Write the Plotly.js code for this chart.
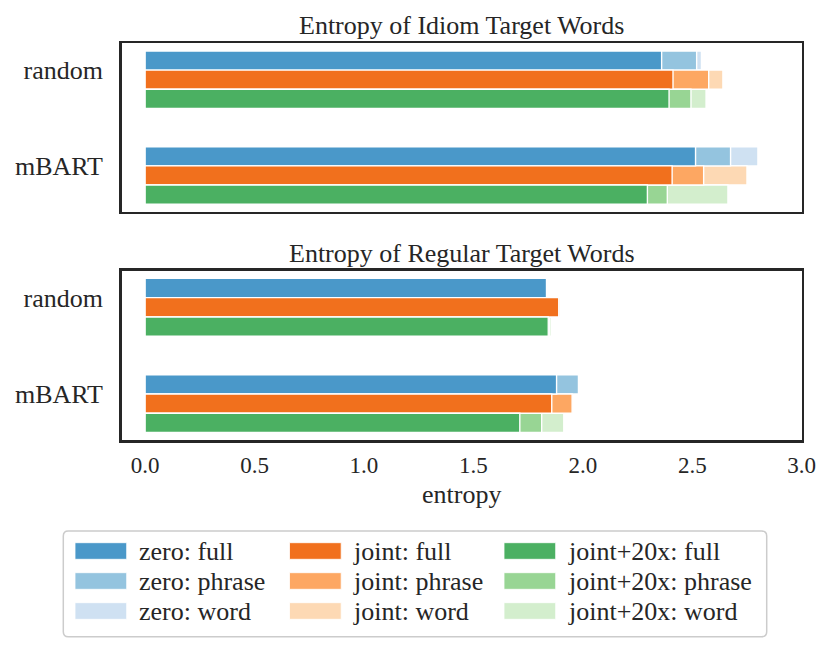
<!DOCTYPE html>
<html>
<head>
<meta charset="utf-8">
<script src="https://cdn.plot.ly/plotly-3.0.1.min.js"></script>
<style>
  html, body { margin: 0; padding: 0; background: #fff; }
</style>
</head>
<body>
<div id="plot" style="width:830px;height:651px;"></div>
<script>
// categories
const models = ['random', 'mBART'];
const settings = ['zero', 'joint', 'joint+20x'];
const levels = ['full', 'phrase', 'word'];
const xTicks = [0, 0.5, 1.0, 1.5, 2.0, 2.5, 3.0];
const xTickText = ['0.0', '0.5', '1.0', '1.5', '2.0', '2.5', '3.0'];

// entropy values, [setting][model]
const idiomFull   = [[2.36, 2.515], [2.412, 2.408], [2.394, 2.295]];
const idiomPhrase = [[2.52, 2.675], [2.575, 2.552], [2.494, 2.386]];
const idiomWord   = [[2.542, 2.80], [2.64, 2.75], [2.563, 2.663]];

const regularFull   = [[1.834, 1.88], [1.89, 1.858], [1.842, 1.712]];
const regularPhrase = [[1.836, 1.98], [1.895, 1.951], [1.848, 1.812]];
const regularWord   = [[1.837, 1.982], [1.898, 1.953], [1.856, 1.913]];

// colours per setting, [full, phrase, word]
const colors = [
  ['#4a98c9', '#94c4df', '#cfe1f2'],
  ['#f1701d', '#fda762', '#fdd9b4'],
  ['#4bb062', '#98d594', '#d3eecd']
];

const W = 830, H = 651;
const textColor = '#262626';
const font = 'Liberation Serif, Times New Roman, serif';

// frame positions in px
const frameL = 121.7, frameR = 801.7;
const frames = [[43.3, 211.7], [270.7, 440]];
const panelTitles = ['Entropy of Idiom Target Words', 'Entropy of Regular Target Words'];
const panelData = [
  [idiomFull, idiomPhrase, idiomWord],
  [regularFull, regularPhrase, regularWord]
];

const barW = 0.2;
function barPos(s, i) { return i + (s * barW - 0.1); }

let traces = [];
for (let p = 0; p < 2; p++) {
  // word behind, full on top
  for (let l = levels.length - 1; l >= 0; l--) {
    for (let s = 0; s < settings.length; s++) {
      traces.push({
        type: 'bar',
        orientation: 'h',
        x: panelData[p][l][s],
        y: models.map(function (m, i) { return barPos(s, i); }),
        width: barW,
        name: settings[s] + ': ' + levels[l],
        marker: { color: colors[s][l], line: { color: '#ffffff', width: 1.4 } },
        xaxis: p === 0 ? 'x' : 'x2',
        yaxis: p === 0 ? 'y' : 'y2',
        showlegend: false,
        hoverinfo: 'x+name'
      });
    }
  }
}

function px(x) { return x / W; }
function py(y) { return 1 - y / H; }

function xAxis(showLabels) {
  return {
    domain: [px(frameL), px(frameR)],
    range: [-0.107, 3.0],
    showgrid: false, zeroline: false, ticks: '',
    showline: true, mirror: true, linecolor: textColor, linewidth: 2.5,
    tickvals: xTicks, ticktext: xTickText,
    showticklabels: showLabels,
    ticklabelstandoff: 3,
    tickfont: { family: font, size: 23, color: textColor }
  };
}
function yAxis(p) {
  return {
    domain: [py(frames[p][1]), py(frames[p][0])],
    range: [1.478, -0.28],
    showgrid: false, zeroline: false, ticks: '',
    showline: true, mirror: true, linecolor: textColor, linewidth: 2.5,
    tickvals: models.map(function (m, i) { return i; }),
    ticktext: models,
    ticklabelstandoff: 11,
    tickfont: { family: font, size: 26, color: textColor },
    anchor: p === 0 ? 'x' : 'x2'
  };
}

let annotations = [];
let shapes = [];
for (let p = 0; p < 2; p++) {
  annotations.push({
    text: panelTitles[p], xref: 'paper', yref: 'paper',
    x: px((frameL + frameR) / 2), y: py(frames[p][0]),
    xanchor: 'center', yanchor: 'bottom', yshift: 1, showarrow: false,
    font: { family: font, size: 26, color: textColor }
  });
}
annotations.push({
  text: 'entropy', xref: 'paper', yref: 'paper',
  x: px((frameL + frameR) / 2), y: py(494),
  xanchor: 'center', yanchor: 'middle', showarrow: false,
  font: { family: font, size: 26, color: textColor }
});

// legend box, drawn as rounded path
const lb = { l: 63.3, r: 766.7, t: 531, b: 636.7, rad: 5 };
function P(x, y) { return px(x) + ',' + py(y); }
shapes.push({
  type: 'path', xref: 'paper', yref: 'paper',
  path: 'M' + P(lb.l + lb.rad, lb.t) + ' L' + P(lb.r - lb.rad, lb.t) +
        ' Q' + P(lb.r, lb.t) + ' ' + P(lb.r, lb.t + lb.rad) +
        ' L' + P(lb.r, lb.b - lb.rad) +
        ' Q' + P(lb.r, lb.b) + ' ' + P(lb.r - lb.rad, lb.b) +
        ' L' + P(lb.l + lb.rad, lb.b) +
        ' Q' + P(lb.l, lb.b) + ' ' + P(lb.l, lb.b - lb.rad) +
        ' L' + P(lb.l, lb.t + lb.rad) +
        ' Q' + P(lb.l, lb.t) + ' ' + P(lb.l + lb.rad, lb.t) + ' Z',
  line: { color: '#cccccc', width: 1.5 },
  fillcolor: 'rgba(255,255,255,0.8)'
});
for (let s = 0; s < settings.length; s++) {
  for (let l = 0; l < levels.length; l++) {
    const x0 = 75 + s * 214.5;
    const yc = 551 + l * 30;
    shapes.push({
      type: 'rect', xref: 'paper', yref: 'paper',
      x0: px(x0), x1: px(x0 + 51.7), y0: py(yc + 8.3), y1: py(yc - 8.3),
      fillcolor: colors[s][l], line: { color: '#ffffff', width: 0.8 }
    });
    annotations.push({
      text: settings[s] + ': ' + levels[l], xref: 'paper', yref: 'paper',
      x: px(x0 + 61.7), y: py(yc), xanchor: 'left', yanchor: 'middle',
      showarrow: false,
      font: { family: font, size: 26, color: textColor }
    });
  }
}

const layout = {
  width: W, height: H,
  margin: { l: 0, r: 0, t: 0, b: 0 },
  paper_bgcolor: '#ffffff', plot_bgcolor: '#ffffff',
  barmode: 'overlay',
  showlegend: false,
  xaxis: Object.assign(xAxis(false), { anchor: 'y' }),
  yaxis: yAxis(0),
  xaxis2: Object.assign(xAxis(true), { anchor: 'y2' }),
  yaxis2: yAxis(1),
  annotations: annotations,
  shapes: shapes
};

Plotly.newPlot('plot', traces, layout, { displayModeBar: false, staticPlot: true });
</script>
</body>
</html>
